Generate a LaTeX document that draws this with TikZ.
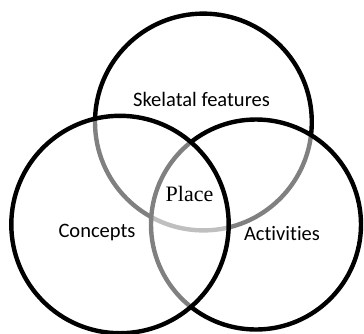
\documentclass[tikz,border=0pt]{standalone}
\usepackage{fontspec}
\setmainfont{Liberation Serif}
\setsansfont{Carlito}[Ligatures=NoCommon]
\tikzset{
	ring/.style={line width=4.4pt, draw=black, fill=white, fill opacity=0.5},
	tag/.style={anchor=base, inner sep=0pt, font=\sffamily\fontsize{20.5}{24}\selectfont},
	tagmid/.style={anchor=base, inner sep=0pt, font=\rmfamily\fontsize{22}{26}\selectfont}
}
\begin{document}
\begin{tikzpicture}[x=1pt,y=-1pt]
    % frame of the picture
    \useasboundingbox (0,0) rectangle (364,333);
    \coordinate (cTop) at (203.4,122);
    \coordinate (cRight) at (256,224.5);
    \coordinate (cLeft) at (120,224.5);
    % the three rings, each one whitening what lies below it
    \draw[ring] (cTop) circle[radius=108.4pt];
    \draw[ring] (cRight) circle[radius=105pt];
    \draw[ring] (cLeft) circle[radius=108.7pt];
    % texts
    \node[tag] (skel) at (201.5,106) {Skelatal features};
    \node[tag] (conc) at (97,237) {Concepts};
    \node[tag] (acti) at (282,240.7) {Activities};
    \node[tagmid] (place) at (189.5,201.7) {Place};
\end{tikzpicture}
\end{document}
